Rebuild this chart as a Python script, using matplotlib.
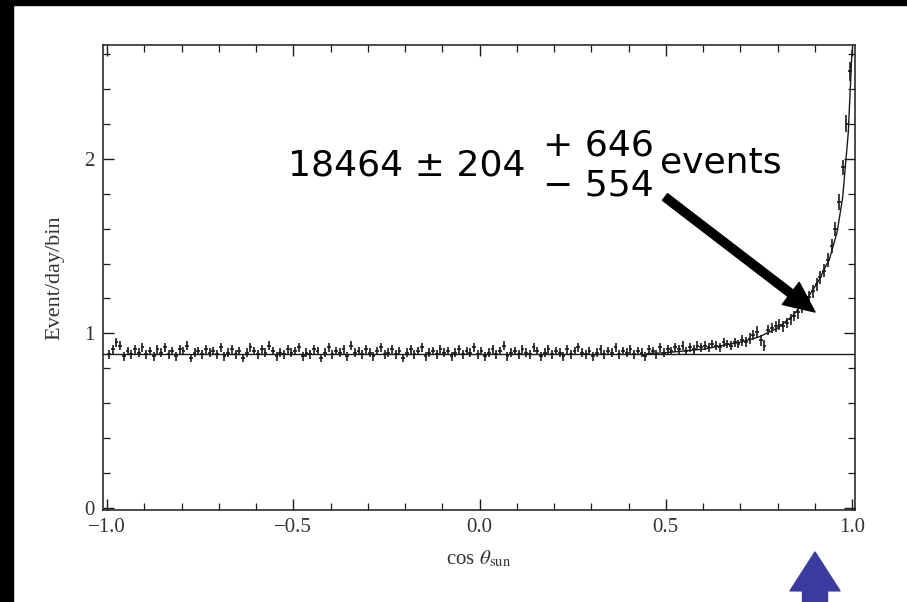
import numpy as np
import matplotlib.pyplot as plt
from matplotlib.ticker import MultipleLocator
from matplotlib.patches import Rectangle

plt.rcParams['mathtext.fontset'] = 'stix'

# bin centres in cos(theta_sun), 200 bins of 0.01
bin_centers = np.arange(-0.995, 1.0, 0.01)

# event/day/bin
flux = [
    0.88, 0.91, 0.95, 0.93, 0.87, 0.90, 0.88, 0.91, 0.89, 0.92,
    0.88, 0.90, 0.87, 0.91, 0.89, 0.92, 0.88, 0.90, 0.87, 0.91,
    0.90, 0.93, 0.86, 0.89, 0.90, 0.88, 0.91, 0.89, 0.90, 0.88,
    0.92, 0.87, 0.89, 0.91, 0.88, 0.90, 0.86, 0.89, 0.92, 0.90,
    0.88, 0.91, 0.89, 0.93, 0.90, 0.87, 0.89, 0.88, 0.91, 0.89,
    0.90, 0.92, 0.87, 0.89, 0.88, 0.91, 0.90, 0.86, 0.89, 0.92,
    0.88, 0.90, 0.89, 0.91, 0.87, 0.93, 0.89, 0.90, 0.88, 0.91,
    0.89, 0.87, 0.90, 0.92, 0.88, 0.89, 0.91, 0.88, 0.90, 0.86,
    0.89, 0.91, 0.88, 0.90, 0.92, 0.87, 0.89, 0.90, 0.88, 0.91,
    0.89, 0.90, 0.87, 0.89, 0.91, 0.88, 0.90, 0.89, 0.92, 0.88,
    0.90, 0.87, 0.89, 0.91, 0.88, 0.90, 0.93, 0.87, 0.89, 0.90,
    0.88, 0.91, 0.89, 0.88, 0.92, 0.90, 0.87, 0.89, 0.91, 0.88,
    0.90, 0.89, 0.87, 0.91, 0.88, 0.90, 0.92, 0.89, 0.88, 0.90,
    0.87, 0.89, 0.91, 0.88, 0.90, 0.89, 0.92, 0.88, 0.90, 0.89,
    0.91, 0.88, 0.90, 0.89, 0.87, 0.91, 0.90, 0.88, 0.92, 0.89,
    0.91, 0.90, 0.92, 0.91, 0.93, 0.90, 0.92, 0.91, 0.93, 0.92,
    0.93, 0.92, 0.94, 0.93, 0.92, 0.95, 0.94, 0.93, 0.95, 0.94,
    0.96, 0.95, 0.97, 0.99, 1.01, 0.96, 0.93, 1.02, 1.03, 1.04,
    1.05, 1.04, 1.06, 1.08, 1.10, 1.12, 1.15, 1.18, 1.21, 1.24,
    1.28, 1.32, 1.36, 1.42, 1.50, 1.60, 1.75, 1.95, 2.20, 2.50,
]
flux_err = [0.025] * 150 + [
    0.025, 0.025, 0.025, 0.025, 0.025, 0.025, 0.025, 0.025, 0.025, 0.025,
    0.025, 0.025, 0.025, 0.025, 0.025, 0.025, 0.025, 0.025, 0.025, 0.025,
    0.03, 0.03, 0.03, 0.03, 0.03, 0.03, 0.03, 0.03, 0.03, 0.03,
    0.03, 0.03, 0.03, 0.03, 0.03, 0.035, 0.035, 0.035, 0.035, 0.035,
    0.035, 0.035, 0.035, 0.04, 0.04, 0.04, 0.045, 0.045, 0.05, 0.055,
]

# background level and best fit (signal + background)
bkg_level = 0.885
fit_x = [0.45, 0.50, 0.55, 0.60, 0.65, 0.70, 0.75, 0.80, 0.84, 0.88,
         0.91, 0.94, 0.96, 0.975, 0.99, 1.0]
fit_y = [0.885, 0.89, 0.90, 0.91, 0.93, 0.95, 0.98, 1.03, 1.10, 1.20,
         1.30, 1.43, 1.58, 1.78, 2.15, 2.62]

W, H = 907, 602
fig = plt.figure(figsize=(W / 100, H / 100), dpi=100, facecolor='white')

# black slide border on the left and top
fig.patches.append(Rectangle((0, 0), 13 / W, 1, transform=fig.transFigure,
                             color='black', zorder=-5))
fig.patches.append(Rectangle((0, 1 - 5 / H), 1, 5 / H, transform=fig.transFigure,
                             color='black', zorder=-5))

ax = fig.add_axes([103 / W, 92 / H, 752 / W, 465 / H])
ink = '#1a1a1a'

ax.errorbar(bin_centers, flux, yerr=flux_err, xerr=0.005, fmt='none',
            ecolor=ink, elinewidth=1.2, capsize=0)
ax.axhline(bkg_level, color=ink, lw=1.0)
ax.plot(fit_x, fit_y, color=ink, lw=1.0)

ax.set_xlim(-1.011, 1.008)
ax.set_ylim(-0.01, 2.65)
ax.xaxis.set_major_locator(MultipleLocator(0.5))
ax.xaxis.set_minor_locator(MultipleLocator(0.1))
ax.yaxis.set_major_locator(MultipleLocator(1))
ax.yaxis.set_minor_locator(MultipleLocator(0.2))
ax.set_xticks([-1.0, -0.5, 0.0, 0.5, 1.0])
ax.set_xticklabels(['\u22121.0', '\u22120.5', '0.0', '0.5', '1.0'])
ax.set_yticks([0, 1, 2])
ax.tick_params(which='both', direction='in', top=True, right=True,
               color=ink, labelsize=15)
ax.tick_params(which='major', length=8, width=1, pad=6)
ax.tick_params(which='minor', length=5, width=0.9)
for lab in ax.get_xticklabels() + ax.get_yticklabels():
    lab.set_family('Liberation Serif')
    lab.set_color('#333333')
for s in ax.spines.values():
    s.set_color(ink)
    s.set_linewidth(1.1)

ax.set_xlabel(r'cos $\theta_{\rm sun}$', fontsize=15,
              family='Liberation Serif', color='#333333', labelpad=8)
ax.set_ylabel('Event/day/bin', fontsize=16, family='Liberation Serif',
              color='#333333', labelpad=14)


def fpx(x, y):
    return x / W, 1 - y / H


big = dict(fontsize=26, family='DejaVu Sans', color='black', va='center')
fig.text(*fpx(288, 165), '18464 \u00b1 204', **big)
fig.text(*fpx(543, 146), '+ 646', **big)
fig.text(*fpx(543, 186), '\u2212 554', **big)
fig.text(*fpx(660, 163), 'events', **big)

# black arrow pointing at the peak
ax.annotate('', xy=(815, H - 312), xytext=(665, H - 197),
            xycoords='figure pixels', textcoords='figure pixels',
            arrowprops=dict(width=6, headwidth=20, headlength=22,
                            color='black'),
            annotation_clip=False)

# blue arrow below cos = 1
ax.annotate('', xy=(815, H - 552), xytext=(815, -10),
            xycoords='figure pixels', textcoords='figure pixels',
            arrowprops=dict(width=18, headwidth=36, headlength=28,
                            color='#3a3aa0'),
            annotation_clip=False)

fig.savefig('out.png', dpi=100, facecolor='white')
